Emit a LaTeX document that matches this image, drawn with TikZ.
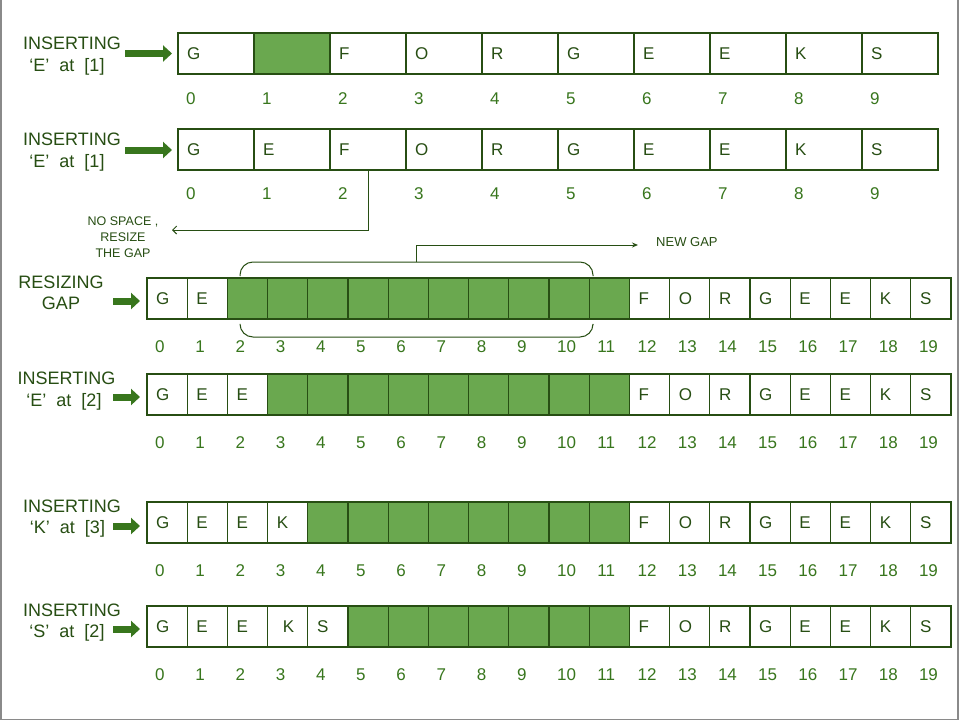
\documentclass[tikz,border=0pt]{standalone}
\usepackage{fontspec}
\setmainfont{Liberation Sans}
\usetikzlibrary{arrows.meta}
\definecolor{dk}{HTML}{274E13}
\definecolor{gfill}{HTML}{6AA84F}
\definecolor{ag}{HTML}{38761D}
\definecolor{framec}{HTML}{8A8A8A}
\tikzset{
 cellbox/.style={draw=dk, line width=1.2pt, minimum height=41pt, anchor=north west, inner sep=0pt, outer sep=0pt},
 letter/.style={font=\fontsize{17}{20}\selectfont, text=dk, anchor=base west, inner sep=0pt},
 idx/.style={font=\fontsize{17}{20}\selectfont, text=ag, anchor=base west, inner sep=0pt},
 lab/.style={font=\fontsize{18}{22}\selectfont, text=dk, anchor=base, inner sep=0pt},
 small/.style={font=\fontsize{12.5}{16}\selectfont, text=dk, align=center, inner sep=0pt},
 bigarrow/.style={draw=ag, line width=7pt, -{Triangle[length=9pt,width=16pt]}},
 thinline/.style={draw=dk, line width=1pt},
}
\newcommand\arow[8]{%
 \foreach \ch [count=\i from 0] in {#7} {
   \pgfmathtruncatemacro\isg{and(\i>=#5,\i<=#6)}
   \ifnum\isg=1 \def\fc{gfill}\else\def\fc{white}\fi
   \node[cellbox, fill=\fc, minimum width=#4pt] (#1c\i) at ({#2+#4*\i},#3) {};
   \node[letter] (#1l\i) at ({#2+#4*\i+9},#3+26.5) {\ch};
   \node[idx] (#1n\i) at ({#2+#4*\i+8},#8) {\i};
 }}
\begin{document}
\begin{tikzpicture}[x=1pt,y=-1pt]
\useasboundingbox (0,0) rectangle (960,720);
\fill[white] (0,0) rectangle (960,720);
\draw[framec, line width=1.5pt] (0.75,0) -- (0.75,719.25) -- (958,719.25) -- (958,0);

% rows
\arow{ra}{178}{33}{76}{1}{1}{G,{},F,O,R,G,E,E,K,S}{104.5}
\arow{rb}{178}{129}{76}{99}{-1}{G,E,F,O,R,G,E,E,K,S}{199.5}
\arow{rc}{147}{278}{40.2}{2}{11}{G,E,{},{},{},{},{},{},{},{},{},{},F,O,R,G,E,E,K,S}{352}
\arow{rd}{147}{374}{40.2}{3}{11}{G,E,E,{},{},{},{},{},{},{},{},{},F,O,R,G,E,E,K,S}{448}
\arow{re}{147}{502}{40.2}{4}{11}{G,E,E,K,{},{},{},{},{},{},{},{},F,O,R,G,E,E,K,S}{576.5}
\arow{rf}{147}{606}{40.2}{5}{11}{G,E,E,\kern6pt K,S,{},{},{},{},{},{},{},F,O,R,G,E,E,K,S}{680}

% labels
\node[lab] (l1a) at (72,49) {INSERTING};
\node[lab] (l1b) at (67,71) {‘E’~~at~~[1]};
\node[lab] (l2a) at (72,145) {INSERTING};
\node[lab] (l2b) at (67,167) {‘E’~~at~~[1]};
\node[lab] (l3a) at (61,288) {RESIZING};
\node[lab] (l3b) at (61,309.5) {GAP};
\node[lab] (l4a) at (66.5,384) {INSERTING};
\node[lab] (l4b) at (64,406) {‘E’~~at~~[2]};
\node[lab] (l5a) at (72,512.5) {INSERTING};
\node[lab] (l5b) at (67.5,533) {‘K’~~at~~[3]};
\node[lab] (l6a) at (72,616.5) {INSERTING};
\node[lab] (l6b) at (67,637) {‘S’~~at~~[2]};

% big arrows
\coordinate (a1s) at (125,53.5); \coordinate (a1t) at (172,53.5);
\coordinate (a2s) at (125,150);  \coordinate (a2t) at (172,150);
\coordinate (a3s) at (113,301);  \coordinate (a3t) at (140,301);
\coordinate (a4s) at (113,397);  \coordinate (a4t) at (140,397);
\coordinate (a5s) at (113,526);  \coordinate (a5t) at (140,526);
\coordinate (a6s) at (113,629);  \coordinate (a6t) at (140,629);
\foreach \k in {1,...,6} {\draw[bigarrow] (a\k s) -- (a\k t);}

% no space connector
\coordinate (nstip) at (172,230);
\draw[thinline, -{Straight Barb[length=4pt,width=8pt]}] (rbc2.south) |- (nstip);
\node[small] (ns) at (123,237) {NO SPACE ,\\RESIZE\\THE GAP};

% braces
\draw[thinline, rounded corners=13pt] (240,276) |- (593,262) -- (593,276);
\draw[thinline, rounded corners=13pt] (240,325) |- (593,337) -- (593,325);
\coordinate (bt) at (416.5,262);
\coordinate (ngtip) at (638,245);
\draw[thinline, -{Stealth[length=6pt,width=5pt]}] (bt) |- (ngtip);
\node[small, anchor=west, font=\fontsize{13}{16}\selectfont] (ng) at (656,242) {NEW GAP};
\end{tikzpicture}
\end{document}
